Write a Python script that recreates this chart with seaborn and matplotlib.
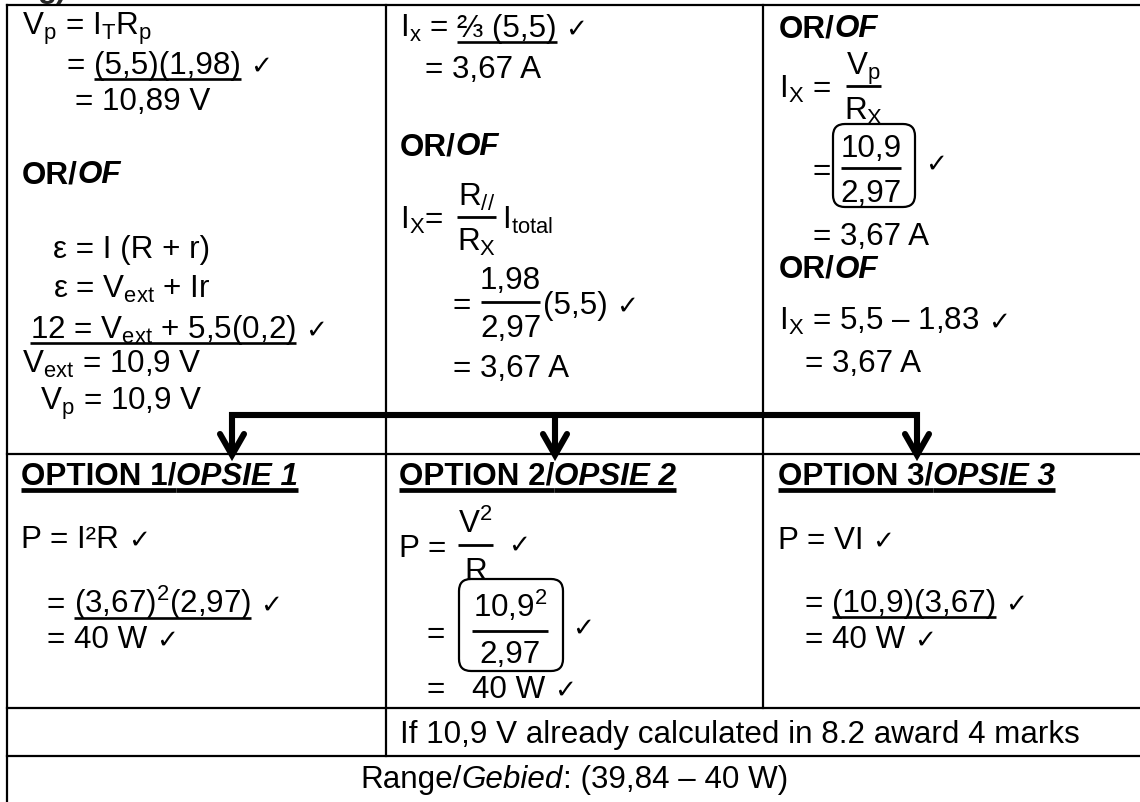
import matplotlib
matplotlib.use('Agg')
import matplotlib.pyplot as plt
import seaborn as sns
from matplotlib.patches import FancyBboxPatch

# text content of the marking table
opt_en = ['OPTION 1/', 'OPTION 2/', 'OPTION 3/']
opt_af = ['OPSIE 1', 'OPSIE 2', 'OPSIE 3']
or_en, or_af = 'OR/', 'OF'
ix_result = '= 3,67 A'
p_result = '40 W'
note = 'If 10,9 V already calculated in 8.2 award 4 marks'
range_parts = ['Range/', 'Gebied', ': (39,84 – 40 W)']
tick = '✓'

sns.set_theme(style='white')
plt.rcParams['font.family'] = ['Liberation Sans', 'DejaVu Sans']
plt.rcParams['mathtext.fontset'] = 'custom'
plt.rcParams['mathtext.rm'] = 'Liberation Sans'
plt.rcParams['mathtext.it'] = 'Liberation Sans:italic'
plt.rcParams['mathtext.bf'] = 'Liberation Sans:bold'
plt.rcParams['mathtext.default'] = 'regular'

FS = 22.6
fig = plt.figure(figsize=(11.4, 8.03), dpi=100)
ax = fig.add_axes([0, 0, 1, 1])
ax.set_xlim(0, 1140)
ax.set_ylim(803, 0)
ax.axis('off')
rend = fig.canvas.get_renderer()


def _txt(x, y, s, fl='', ha='left'):
    kw = dict(fontsize=FS, va='baseline', ha=ha, color='black')
    if 'c' in fl:
        kw['fontsize'] = 19
        kw['family'] = 'DejaVu Sans'
    if 'b' in fl:
        kw['fontweight'] = 'bold'
    if 'i' in fl:
        kw['fontstyle'] = 'italic'
    return ax.text(x, y, s, **kw)


t1 = _txt(0, 0, 'a a')
t2 = _txt(0, 0, 'aa')
SP = t1.get_window_extent(rend).width - t2.get_window_extent(rend).width
t1.remove()
t2.remove()


def _split(p):
    return (p, '') if isinstance(p, str) else p


def put(x, y, *parts):
    for p in parts:
        if p == ' ':
            x += SP
            continue
        s, fl = _split(p)
        t = _txt(x, y, s, fl)
        w = t.get_window_extent(rend).width
        if 'u' in fl:
            ax.plot([x, x + w], [y + 5.5, y + 5.5], color='black',
                    lw=3.4 if 'b' in fl else 1.9, solid_capstyle='butt')
        x += w
    return x


def width(*parts):
    tot = 0
    for p in parts:
        if p == ' ':
            tot += SP
            continue
        s, fl = _split(p)
        t = _txt(0, 0, s, fl)
        tot += t.get_window_extent(rend).width
        t.remove()
    return tot


def frac(x0, x1, yl, num, den, dn=12, dd=33):
    ax.plot([x0, x1], [yl, yl], color='black', lw=2, solid_capstyle='butt')
    _txt((x0 + x1) / 2, yl - dn, num, ha='center')
    _txt((x0 + x1) / 2, yl + dd, den, ha='center')


def box(x0, x1, y0, y1):
    ax.add_patch(FancyBboxPatch((x0, y0), x1 - x0, y1 - y0,
                                boxstyle='round,pad=0,rounding_size=12',
                                fill=False, ec='black', lw=1.6))


CK = (tick, 'c')

# table grid
lk = dict(color='black', lw=1.6, solid_capstyle='projecting')
ax.plot([7, 1140], [6, 6], **lk)
ax.plot([7, 7], [6, 803], **lk)
for yy in [455, 709, 757]:
    ax.plot([7, 1140], [yy, yy], **lk)
ax.plot([386, 386], [6, 757], **lk)
ax.plot([763, 763], [6, 709], **lk)

# question label, cut off by the top edge as in the scan
ax.text(38, -3, 'g)', fontsize=FS, fontweight='bold', va='baseline')

# column 1
put(22, 35, 'V$_p$ = I$_T$R$_p$')
put(67, 74, '=', ' ', ('(5,5)(1,98)', 'u'), ' ', CK)
put(75, 110, '= 10,89 V')
put(22, 183, (or_en, 'b'), (or_af, 'bi'))
put(53, 258, 'ε = I (R + r)')
put(53, 298, 'ε = V$_{ext}$ + Ir')
put(30, 338, ('12 = V$_{ext}$ + 5,5(0,2)', 'u'), ' ', CK)
put(22, 373, 'V$_{ext}$ = 10,9 V')
put(40, 410, 'V$_p$ = 10,9 V')

# column 2
put(400, 37, 'I$_x$ =', ' ', ('⅔ (5,5)', 'u'), ' ', CK)
put(425, 78, ix_result)
put(400, 155, (or_en, 'b'), (or_af, 'bi'))
put(400, 229, 'I$_X$=')
frac(457, 496, 218, 'R$_{//}$', 'R$_X$')
put(502, 229, 'I$_{total}$')
put(453, 314, '=')
frac(481, 540, 303, '1,98', '2,97', dn=14, dd=34)
put(543, 314, '(5,5)', ' ', CK)
put(453, 377, ix_result)

# column 3
put(779, 37, (or_en, 'b'), (or_af, 'bi'))
put(779, 98, 'I$_X$ =')
frac(846, 881, 87, 'V$_p$', 'R$_X$')
put(813, 180, '=')
box(833, 915, 125, 208)
frac(841, 901, 169, '10,9', '2,97')
put(925, 172, CK)
put(813, 245, ix_result)
put(779, 278, (or_en, 'b'), (or_af, 'bi'))
put(779, 330, 'I$_X$ = 5,5 – 1,83', ' ', CK)
put(805, 372, ix_result)

# arrows to the options
ak = dict(color='black', lw=4.4)
ax.plot([232, 232, 917, 917], [455, 416, 416, 455], solid_joinstyle='miter', **ak)
ax.plot([555, 555], [416, 455], **ak)
for xa in [232, 555, 917]:
    ax.plot([xa - 12, xa, xa + 12], [435, 456, 435], solid_joinstyle='miter', **ak)

# option headers
for xh, en, af in zip([21, 399, 778], opt_en, opt_af):
    put(xh, 485, (en, 'bu'), (af, 'biu'))

# option 1
put(21, 548, 'P = I²R', ' ', CK)
put(47, 613, '=', ' ', ('(3,67)$^2$(2,97)', 'u'), ' ', CK)
put(47, 648, '=', ' ', p_result, ' ', CK)

# option 2
put(399, 557, 'P =')
frac(458, 493, 546, 'V$^2$', 'R', dn=13, dd=34)
put(508, 553, CK)
put(427, 643, '=')
box(459, 563, 580, 672)
frac(472, 548, 632, '10,9$^2$', '2,97', dn=15, dd=31)
put(572, 636, CK)
put(427, 698, '=')
put(472, 698, p_result, ' ', CK)

# option 3
put(778, 549, 'P = VI', ' ', CK)
put(805, 612, '=', ' ', ('(10,9)(3,67)', 'u'), ' ', CK)
put(805, 648, '=', ' ', p_result, ' ', CK)

# bottom rows
put(400, 743, note)
rp = [range_parts[0], (range_parts[1], 'i'), range_parts[2]]
put(574 - width(*rp) / 2, 788, *rp)

fig.savefig('out.png', dpi=100)
